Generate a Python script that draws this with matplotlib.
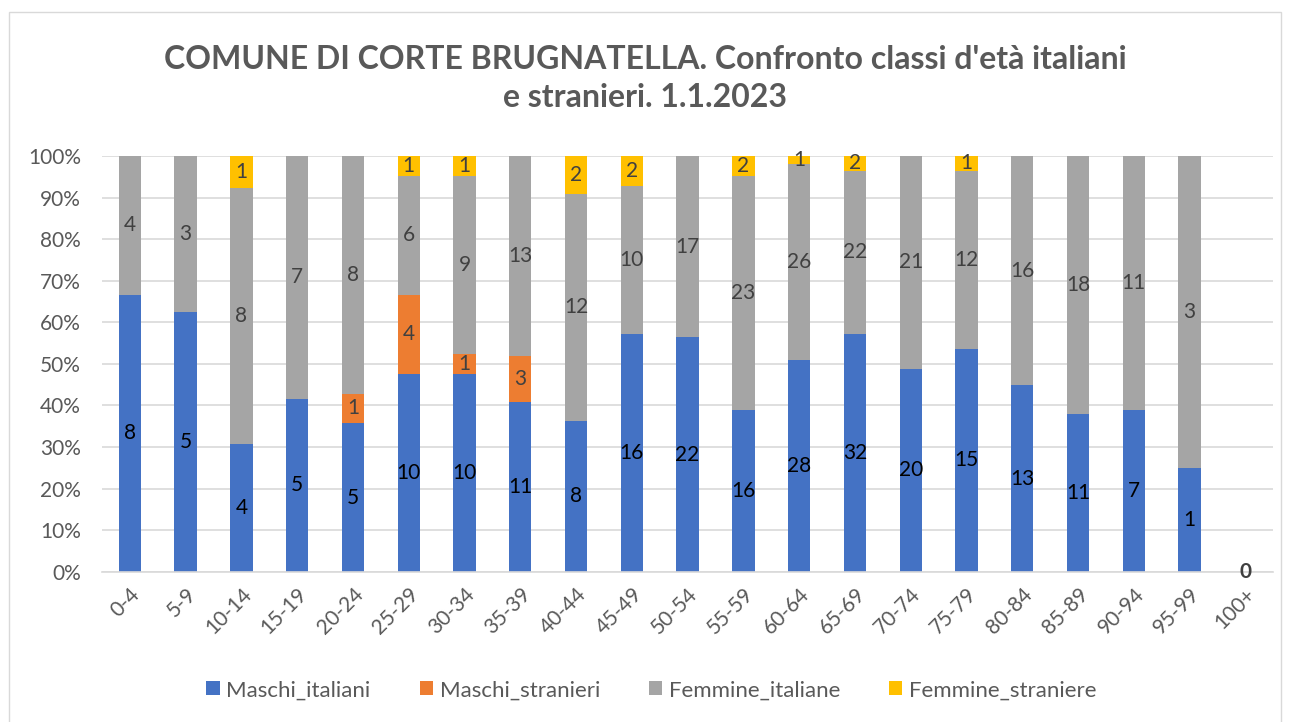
import numpy as np
import matplotlib.pyplot as plt
from matplotlib.patches import Rectangle

plt.rcParams['font.family'] = ['Lato', 'DejaVu Sans']

categories = ['0-4', '5-9', '10-14', '15-19', '20-24', '25-29', '30-34', '35-39',
              '40-44', '45-49', '50-54', '55-59', '60-64', '65-69', '70-74', '75-79',
              '80-84', '85-89', '90-94', '95-99', '100+']
maschi_italiani = [8, 5, 4, 5, 5, 10, 10, 11, 8, 16, 22, 16, 28, 32, 20, 15, 13, 11, 7, 1, 0]
maschi_stranieri = [0, 0, 0, 0, 1, 4, 1, 3, 0, 0, 0, 0, 0, 0, 0, 0, 0, 0, 0, 0, 0]
femmine_italiane = [4, 3, 8, 7, 8, 6, 9, 13, 12, 10, 17, 23, 26, 22, 21, 12, 16, 18, 11, 3, 0]
femmine_straniere = [0, 0, 1, 0, 0, 1, 1, 0, 2, 2, 0, 2, 1, 2, 0, 1, 0, 0, 0, 0, 0]

series = [
    ('Maschi_italiani', maschi_italiani, '#4472C4', 'black'),
    ('Maschi_stranieri', maschi_stranieri, '#ED7D31', '#404040'),
    ('Femmine_italiane', femmine_italiane, '#A5A5A5', '#404040'),
    ('Femmine_straniere', femmine_straniere, '#FFC000', '#404040'),
]

data = np.array([s[1] for s in series], dtype=float)
totals = data.sum(axis=0)
safe = np.where(totals == 0, 1, totals)
pct = data / safe * 100

fig = plt.figure(figsize=(12.9, 7.22), dpi=100)
ax = fig.add_axes([0.079, 0.208, 0.908, 0.576])

x = np.arange(len(categories))
bottom = np.zeros(len(categories))
for (name, vals, color, tcol), p in zip(series, pct):
    ax.bar(x, p, 0.4, bottom=bottom, color=color, label=name, zorder=2)
    for i, v in enumerate(vals):
        if v > 0:
            ax.text(x[i], bottom[i] + p[i] / 2, str(v), ha='center', va='center',
                    fontsize=15, color=tcol, zorder=3)
    bottom += p

# empty class
for i, t in enumerate(totals):
    if t == 0:
        ax.text(x[i], 0, '0', ha='center', va='center', fontsize=15,
                fontweight='bold', color='#404040', zorder=3)

ax.set_xlim(-0.5, len(categories) - 0.5)
ax.set_ylim(0, 100)
ax.set_yticks(np.arange(0, 101, 10))
ax.set_yticklabels([f'{v}%' for v in range(0, 101, 10)])
ax.set_xticks(x)
ax.set_xticklabels(categories, rotation=45, ha='right', rotation_mode='anchor')
ax.tick_params(axis='both', length=0, labelsize=15, colors='#595959')
ax.tick_params(axis='x', pad=9)
ax.tick_params(axis='y', pad=15)
ax.grid(axis='y', color='#D9D9D9', linewidth=1.2, zorder=0)
for sp in ['top', 'right', 'left']:
    ax.spines[sp].set_visible(False)
ax.spines['bottom'].set_color('#D9D9D9')
ax.spines['bottom'].set_linewidth(1.2)

fig.text(0.5, 0.891, "COMUNE DI CORTE BRUGNATELLA. Confronto classi d'età italiani\ne stranieri. 1.1.2023",
         ha='center', va='center', fontsize=23, fontweight='bold', color='#595959',
         linespacing=1.35)

leg = fig.legend(loc='center', bbox_to_anchor=(0.505, 0.044), ncol=4, frameon=False,
                 fontsize=16, handlelength=0.6, handleheight=0.6, columnspacing=2.2,
                 handletextpad=0.3)
for t in leg.get_texts():
    t.set_color('#595959')

fig.patches.append(Rectangle((0.007, -0.01), 0.986, 0.993, transform=fig.transFigure,
                             fill=False, edgecolor='#D9D9D9', linewidth=1))

fig.savefig('out.png', dpi=100)
